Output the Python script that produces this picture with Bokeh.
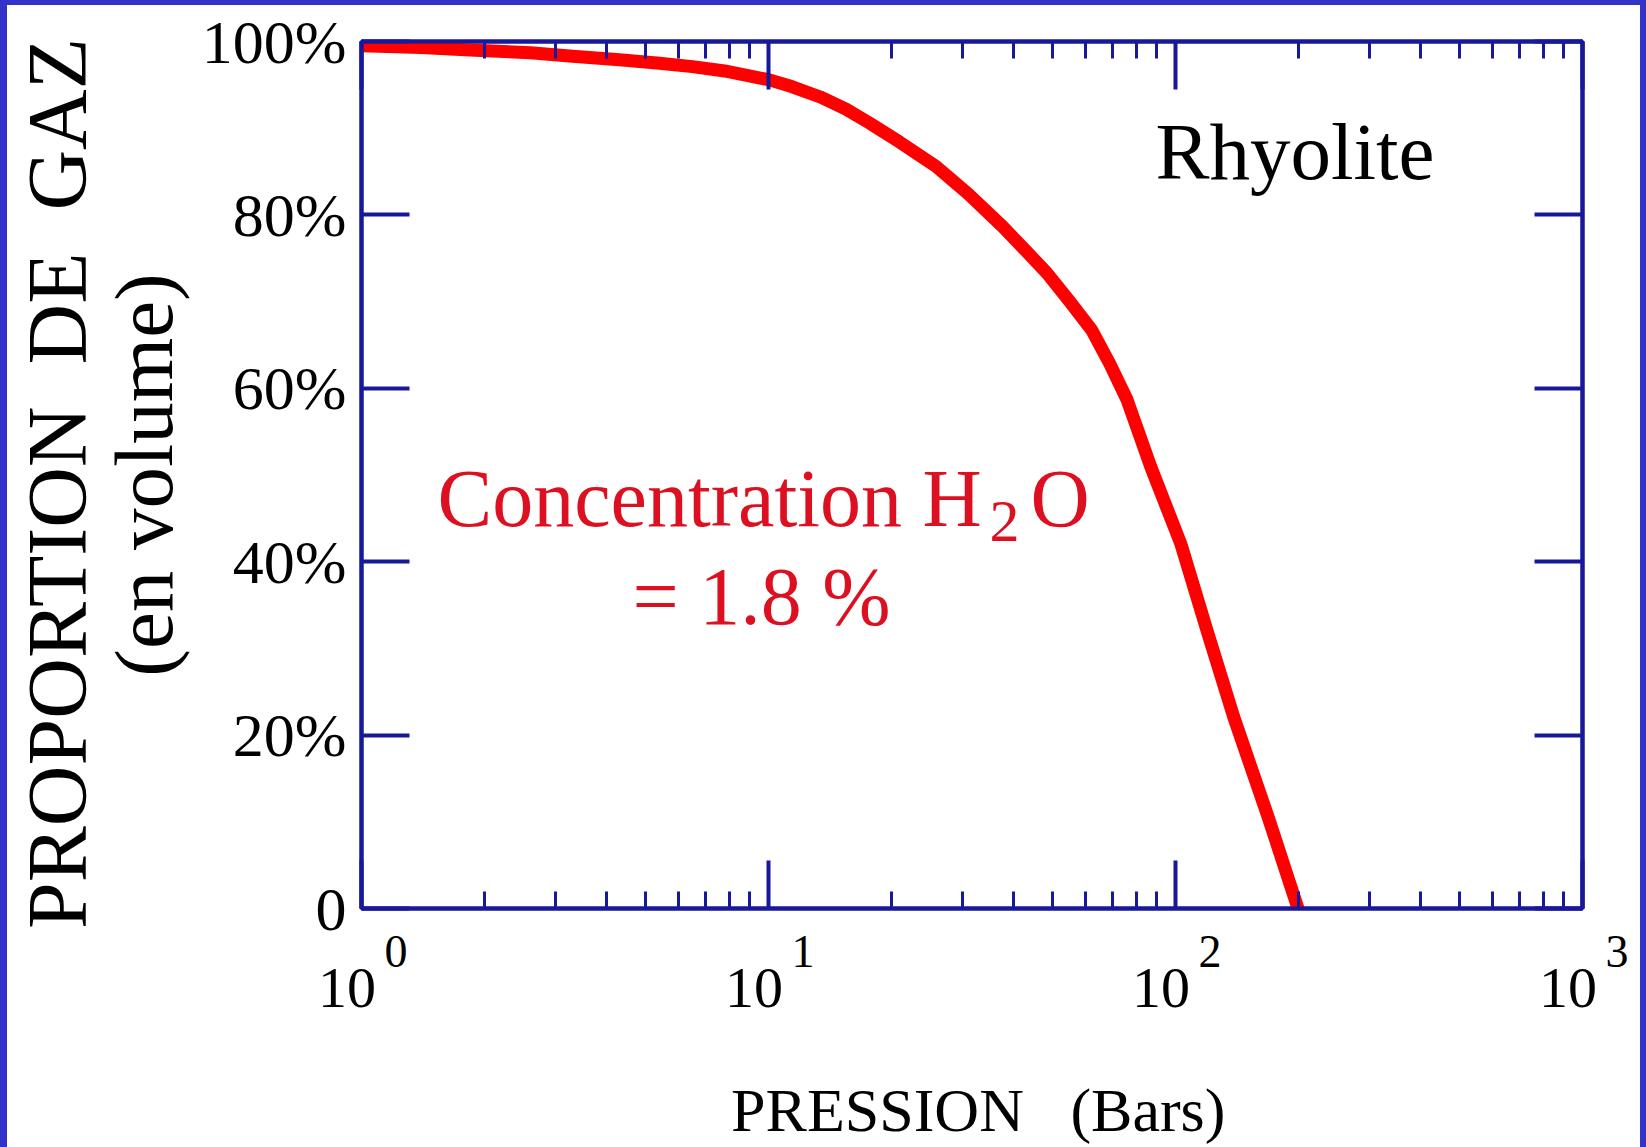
import math
from bokeh.plotting import figure
from bokeh.models import Range1d, FixedTicker, LinearAxis, LogAxis, Label
from bokeh.embed import file_html
from bokeh.resources import INLINE

# ---------------- data ----------------
pressure_bars = [1.0, 1.4, 1.9, 2.6, 3.3, 4.3, 5.4, 6.5, 7.8, 10.0, 11.4, 13.4, 15.5,
                 17.7, 21.0, 25.8, 31.0, 37.7, 43.0, 48.3, 55.0, 62.3, 69.0, 76.0,
                 87.0, 103.0, 120.0, 139.0, 169.0, 200.0]
gas_volume_pct = [99.5, 99.3, 99.0, 98.7, 98.3, 97.9, 97.5, 97.1, 96.6, 95.6, 94.8, 93.6, 92.2,
                  90.6, 88.4, 85.6, 82.4, 78.6, 75.8, 73.3, 70.0, 66.7, 62.8, 58.7,
                  50.9, 42.1, 31.8, 22.1, 10.5, 0.0]

y_tick_values = [0, 20, 40, 60, 80, 100]
y_tick_labels = ["0", "20%", "40%", "60%", "80%", "100%"]
x_decades = [1, 10, 100, 1000]
x_decade_base = "10"
x_decade_exponents = ["0", "1", "2", "3"]
x_minor_ticks = [m * d for d in (1, 10, 100) for m in range(2, 10)]

NBSP = "\u00a0"
THIN = "\u2009"
rock_label = "Rhyolite"
conc_line1 = "Concentration H"
conc_sub = "2"
conc_after = "O"
conc_line2 = "= 1.8 %"
x_title = THIN + "PRESSION" + NBSP * 3 + "(Bars)"
y_title = "PROPORTION" + NBSP * 2 + "DE" + NBSP * 2 + "GAZ" + THIN
y_subtitle = "(en volume)"

# ---------------- style ----------------
FONT = "Liberation Serif"
NAVY = "#18189a"
RED = "#ff0000"
TEXT_RED = "#dc1020"
FRAME_BLUE = "#3333cc"
FSP = "\u2007"  # figure space, used to nudge labels sideways

W, H = 1646, 1147
p = figure(width=W, height=H, x_axis_type="log",
           x_range=Range1d(1, 1000), y_range=Range1d(0, 100),
           output_backend="svg", toolbar_location=None,
           min_border_left=353, min_border_right=71,
           min_border_top=36, min_border_bottom=244)
p.background_fill_color = "white"
p.border_fill_color = "white"
p.outline_line_color = NAVY
p.outline_line_width = 4
p.xgrid.visible = False
p.ygrid.visible = False
# outer blue frame (top, left, right) drawn as CSS borders around the plot canvas
p.styles = {"border-top": f"5px solid {FRAME_BLUE}",
            "border-left": f"7px solid {FRAME_BLUE}",
            "border-right": f"6px solid {FRAME_BLUE}",
            "overflow": "hidden"}

def style_axis(ax, show_labels):
    ax.axis_line_color = NAVY
    ax.axis_line_width = 4
    ax.major_tick_line_color = NAVY
    ax.major_tick_line_width = 4
    ax.minor_tick_line_color = NAVY
    ax.minor_tick_line_width = 3
    ax.major_tick_out = 0
    ax.major_tick_in = 48
    ax.minor_tick_out = 0
    ax.minor_tick_in = 17
    if not show_labels:
        ax.major_label_text_font_size = "1px"
        ax.major_label_text_color = None
        ax.major_label_standoff = 0

def hide_lines(ax):
    ax.axis_line_color = None
    ax.major_tick_line_color = None
    ax.minor_tick_line_color = None
    ax.major_tick_out = 0
    ax.major_tick_in = 0
    ax.minor_tick_out = 0
    ax.minor_tick_in = 0

# ---- bottom: inner axis carries ticks + exponents, outer axis carries "10" + title
bottom = p.xaxis[0]
bottom.ticker = FixedTicker(ticks=x_decades, minor_ticks=x_minor_ticks)
style_axis(bottom, True)
bottom.major_label_overrides = {d: FSP * 3 + e for d, e in zip(x_decades, x_decade_exponents)}
bottom.major_label_text_font = FONT
bottom.major_label_text_font_size = "46px"
bottom.major_label_text_color = "black"
bottom.major_label_standoff = 17

bottom2 = LogAxis(ticker=FixedTicker(ticks=x_decades, minor_ticks=[]))
hide_lines(bottom2)
bottom2.major_label_overrides = {d: x_decade_base + FSP for d in x_decades}
bottom2.major_label_text_font = FONT
bottom2.major_label_text_font_size = "58px"
bottom2.major_label_text_color = "black"
bottom2.major_label_standoff = -25
bottom2.axis_label = x_title
bottom2.axis_label_text_font = FONT
bottom2.axis_label_text_font_size = "62px"
bottom2.axis_label_text_font_style = "normal"
bottom2.axis_label_text_color = "black"
bottom2.axis_label_standoff = 53
p.add_layout(bottom2, "below")

top_ax = LogAxis(ticker=FixedTicker(ticks=x_decades, minor_ticks=x_minor_ticks))
style_axis(top_ax, False)
p.add_layout(top_ax, "above")

# ---- left: inner axis ticks + percent labels + "(en volume)", outer axis title
left = p.yaxis[0]
left.ticker = FixedTicker(ticks=y_tick_values, minor_ticks=[])
left.major_label_overrides = {v: t for v, t in zip(y_tick_values, y_tick_labels)}
style_axis(left, True)
left.major_label_text_font = FONT
left.major_label_text_font_size = "62px"
left.major_label_text_color = "black"
left.major_label_standoff = 15
left.axis_label = y_subtitle
left.axis_label_text_font = FONT
left.axis_label_text_font_size = "83px"
left.axis_label_text_font_style = "normal"
left.axis_label_text_color = "black"
left.axis_label_standoff = 9

left2 = LinearAxis(ticker=FixedTicker(ticks=y_tick_values, minor_ticks=[]))
hide_lines(left2)
left2.major_label_text_font_size = "1px"
left2.major_label_text_color = None
left2.major_label_standoff = 0
left2.axis_label = y_title
left2.axis_label_text_font = FONT
left2.axis_label_text_font_size = "84px"
left2.axis_label_text_font_style = "normal"
left2.axis_label_text_color = "black"
left2.axis_label_standoff = -9
p.add_layout(left2, "left")

right_ax = LinearAxis(ticker=FixedTicker(ticks=y_tick_values, minor_ticks=[]))
style_axis(right_ax, False)
p.add_layout(right_ax, "right")

# curve
p.line(pressure_bars, gas_volume_pct, line_color=RED, line_width=13,
       line_cap="round", line_join="round")

# ---------------- texts inside the frame ----------------
def lab(text, x, y, size, color="black", align="left"):
    p.add_layout(Label(x=x, y=y, x_units="screen", y_units="screen",
                       text=text, text_font=FONT, text_font_size=size,
                       text_color=color, text_align=align,
                       text_baseline="alphabetic"))

lab(rock_label, 794, 757, "81px")
lab(conc_line1, 76, 410, "82px", color=TEXT_RED)
lab(conc_sub, 628, 387, "60px", color=TEXT_RED)
lab(conc_after, 669, 410, "82px", color=TEXT_RED)
lab(conc_line2, 400, 312, "82px", color=TEXT_RED, align="center")

open("out.html", "w").write(file_html(p, INLINE))
